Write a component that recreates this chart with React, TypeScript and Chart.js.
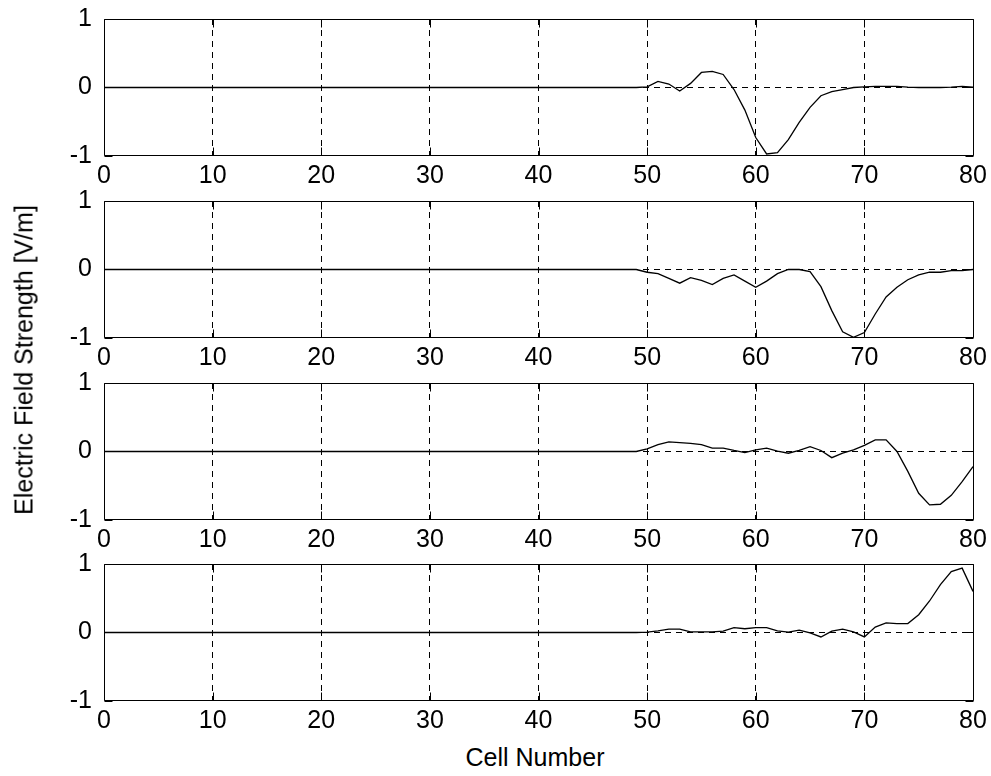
import React, { useEffect, useRef } from "react";
import { Chart, registerables } from "chart.js";

Chart.register(...registerables);

// ---- data ----
const cells = [0, 48, 49, 50, 51, 52, 53, 54, 55, 56, 57, 58, 59, 60, 61, 62, 63, 64, 65, 66, 67, 68, 69, 70, 71, 72, 73, 74, 75, 76, 77, 78, 79, 80];

const field1 = [0, 0, 0,
  0.01, 0.09, 0.05, -0.05, 0.06, 0.22, 0.235, 0.19, -0.03, -0.33, -0.73, -0.97, -0.95, -0.76, -0.51, -0.29, -0.12, -0.06, -0.03, 0,
  0.01, 0.015, 0.015, 0.015, 0.005, 0, 0, 0, 0.005, 0.015, 0.005];

const field2 = [0, 0, 0,
  -0.04, -0.06, -0.13, -0.2, -0.12, -0.16, -0.22, -0.13, -0.08, -0.17, -0.26, -0.17, -0.06, 0, 0, -0.03, -0.25, -0.6, -0.91, -0.99,
  -0.92, -0.65, -0.4, -0.26, -0.15, -0.08, -0.04, -0.04, -0.015, -0.015, 0];

const field3 = [0, 0, 0,
  0.04, 0.1, 0.14, 0.13, 0.12, 0.1, 0.05, 0.05, 0.015, -0.015, 0.025, 0.05, 0.005, -0.025, 0.015, 0.07, 0.015, -0.09, -0.025, 0.025,
  0.09, 0.17, 0.17, 0.0, -0.29, -0.61, -0.78, -0.77, -0.64, -0.44, -0.22];

const field4 = [0, 0, 0,
  0.005, 0.025, 0.05, 0.05, 0.01, 0.01, 0.01, 0.02, 0.07, 0.055, 0.07, 0.07, 0.025, 0.005, 0.035, -0.005, -0.065, 0.02, 0.05, 0.01,
  -0.065, 0.08, 0.14, 0.13, 0.13, 0.26, 0.46, 0.7, 0.89, 0.94, 0.6];

const series = [field1, field2, field3, field4];

const xTicks = [0, 10, 20, 30, 40, 50, 60, 70, 80];
const yTicks = [-1, 0, 1];

const xTitle = "Cell Number";
const yTitle = "Electric Field Strength [V/m]";

// ---- layout ----
const FONT = 'Arial, "Liberation Sans", sans-serif';
const FONT_SIZE = 25;
const W = 991;
const PAD_TOP = 18;
const X_AXIS_H = 38;
const Y_AXIS_W = 104;
const PAD_RIGHT = 18;
const frames = [
  [19, 156],
  [201, 338],
  [383, 520],
  [564, 701],
];

const framePlugin = {
  id: "frame",
  afterDraw(chart: any) {
    const { ctx, chartArea } = chart;
    const { left, right, top, bottom } = chartArea;
    const xs = chart.scales.x;
    const ys = chart.scales.y;
    const L = Math.round(left) + 0.5;
    const R = Math.round(right) + 0.5;
    const T = Math.round(top) + 0.5;
    const B = Math.round(bottom) - 0.5;
    const TL = 8;
    ctx.save();
    ctx.strokeStyle = "#000";
    ctx.lineWidth = 1;
    ctx.setLineDash([]);
    ctx.beginPath();
    ctx.rect(L, T, R - L, B - T);
    xs.ticks.forEach((t: any) => {
      const px = Math.round(xs.getPixelForValue(t.value)) + 0.5;
      ctx.moveTo(px, B);
      ctx.lineTo(px, B - TL);
      ctx.moveTo(px, T);
      ctx.lineTo(px, T + TL);
    });
    ys.ticks.forEach((t: any) => {
      const py = Math.floor(ys.getPixelForValue(t.value)) + 0.5;
      ctx.moveTo(L, py);
      ctx.lineTo(L + TL, py);
      ctx.moveTo(R, py);
      ctx.lineTo(R - TL, py);
    });
    ctx.stroke();
    ctx.restore();
  },
};

function SubPlot({ values, frame }: { values: number[]; frame: number[] }) {
  const ref = useRef<HTMLCanvasElement | null>(null);
  const [ft, fb] = frame;
  const height = fb - ft + PAD_TOP + X_AXIS_H;

  useEffect(() => {
    if (!ref.current) return;
    const font = { family: FONT, size: FONT_SIZE };
    const chart = new Chart(ref.current, {
      type: "line",
      data: {
        datasets: [
          {
            data: cells.map((c, i) => ({ x: c, y: values[i] })),
            borderColor: "#000",
            borderWidth: 1.3,
            pointRadius: 0,
            tension: 0,
            fill: false,
          },
        ],
      },
      options: {
        animation: false,
        responsive: false,
        maintainAspectRatio: false,
        events: [],
        layout: { padding: { top: PAD_TOP, right: PAD_RIGHT, left: 0, bottom: 0 } },
        plugins: { legend: { display: false }, tooltip: { enabled: false } },
        scales: {
          x: {
            type: "linear",
            min: xTicks[0],
            max: xTicks[xTicks.length - 1],
            afterBuildTicks: (s: any) => {
              s.ticks = xTicks.map((v) => ({ value: v }));
            },
            ticks: { font, color: "#000", padding: 5, maxRotation: 0, autoSkip: false },
            grid: {
              drawTicks: false,
              lineWidth: 1,
              color: (c: any) =>
                c.tick && (c.tick.value === xTicks[0] || c.tick.value === xTicks[xTicks.length - 1])
                  ? "rgba(0,0,0,0)"
                  : "#000",
            },
            border: { display: false, dash: [6, 5] },
            afterFit: (s: any) => {
              s.height = X_AXIS_H;
              s.paddingLeft = 0;
              s.paddingRight = 0;
            },
          },
          y: {
            type: "linear",
            min: yTicks[0],
            max: yTicks[yTicks.length - 1],
            afterBuildTicks: (s: any) => {
              s.ticks = yTicks.map((v) => ({ value: v }));
            },
            ticks: { font, color: "#000", padding: 12 },
            grid: {
              drawTicks: false,
              lineWidth: 1,
              color: (c: any) => (c.tick && c.tick.value === 0 ? "#000" : "rgba(0,0,0,0)"),
            },
            border: { display: false, dash: [6, 5] },
            afterFit: (s: any) => {
              s.width = Y_AXIS_W;
              s.paddingTop = 0;
              s.paddingBottom = 0;
            },
          },
        },
      } as any,
      plugins: [framePlugin],
    });
    return () => chart.destroy();
  }, [values]);

  return (
    <canvas
      ref={ref}
      width={W}
      height={height}
      style={{ position: "absolute", left: 0, top: ft - PAD_TOP, width: W, height }}
    />
  );
}

export default function App() {
  return (
    <div style={{ position: "absolute", left: 0, top: 0, width: W, height: 776, background: "#fff", overflow: "hidden" }}>
      {series.map((s, i) => (
        <SubPlot key={i} values={s} frame={frames[i]} />
      ))}
      <div
        style={{
          position: "absolute",
          left: 24,
          top: 360,
          transform: "translate(-50%, -50%) rotate(-90deg)",
          fontFamily: FONT,
          fontSize: FONT_SIZE,
          lineHeight: 1,
          whiteSpace: "nowrap",
          color: "#000",
        }}
      >
        {yTitle}
      </div>
      <div
        style={{
          position: "absolute",
          left: 535,
          top: 757,
          transform: "translate(-50%, -50%)",
          fontFamily: FONT,
          fontSize: FONT_SIZE,
          lineHeight: 1,
          whiteSpace: "nowrap",
          color: "#000",
        }}
      >
        {xTitle}
      </div>
    </div>
  );
}
